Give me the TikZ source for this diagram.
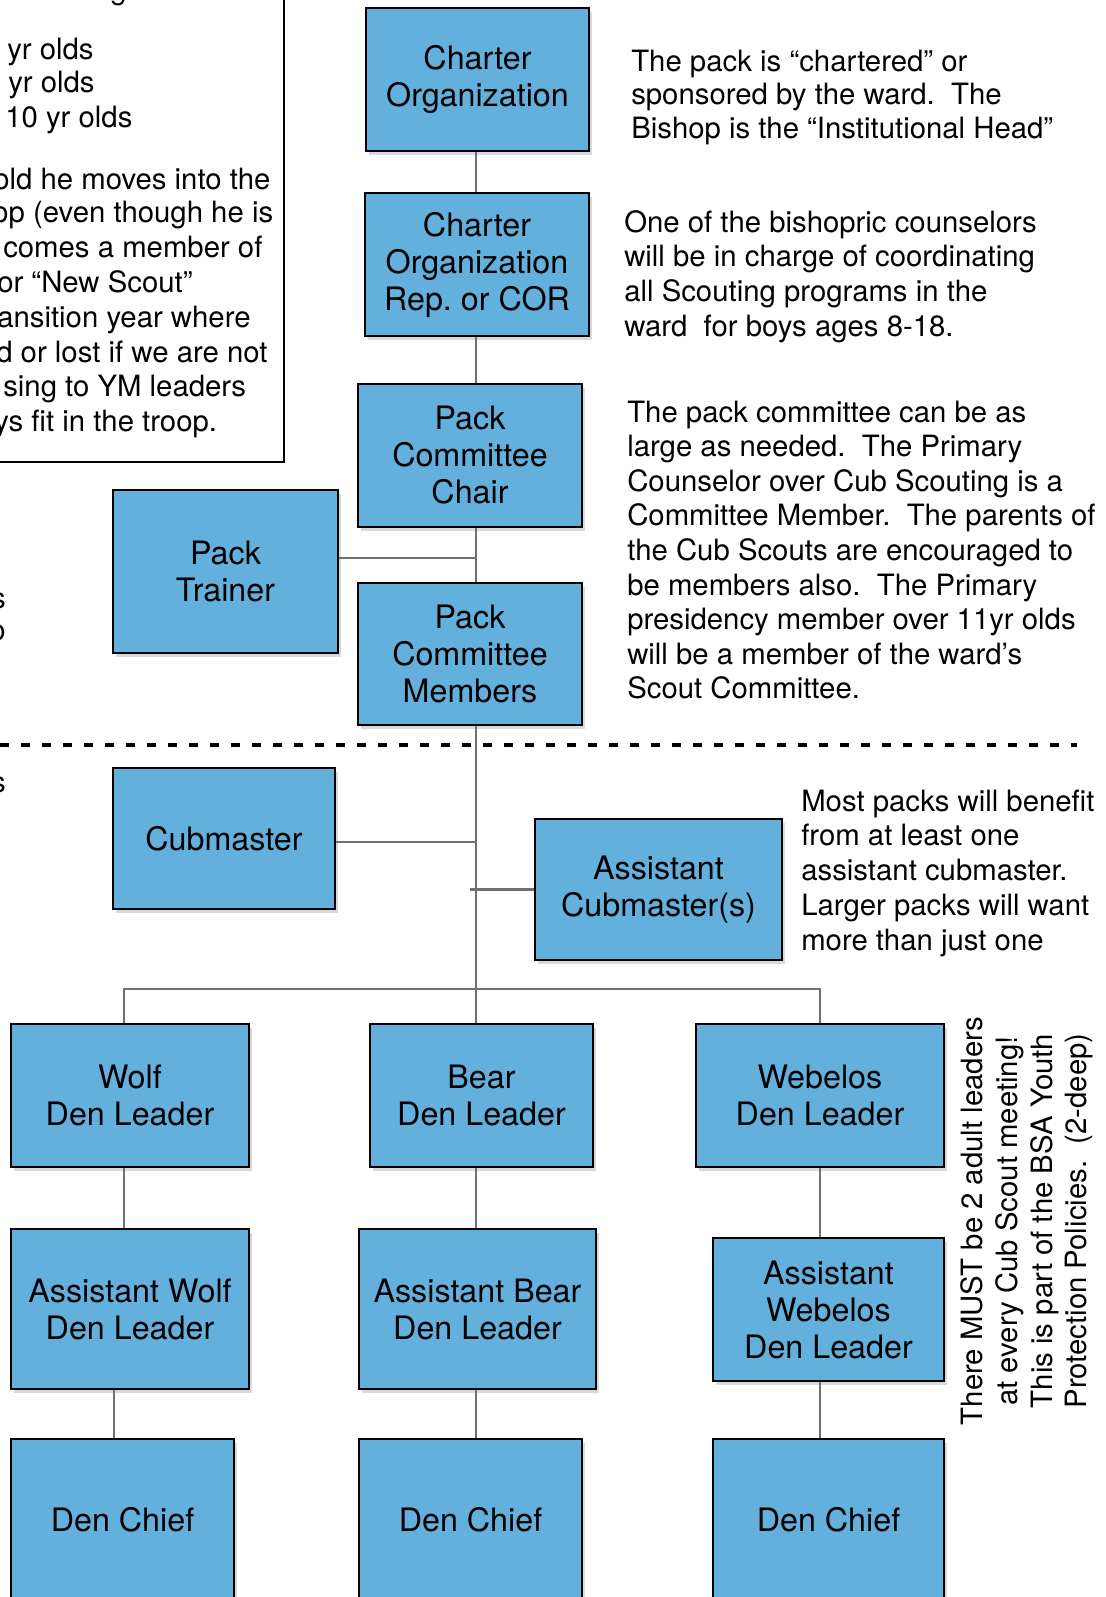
\documentclass[tikz,border=0pt]{standalone}
\usepackage{fontspec}
\setmainfont{TeX Gyre Heros}
\usetikzlibrary{shadows, calc}

\definecolor{boxblue}{RGB}{99,176,221}
\definecolor{linkgray}{RGB}{112,112,112}
\newcommand{\boxfont}{\fontsize{24.2}{27.75}\selectfont}
\newcommand{\notefont}{\fontsize{22}{25.95}\selectfont}
\frenchspacing

\tikzset{
  role/.style={draw=black, line width=1.6pt, fill=boxblue, align=center, font=\boxfont,
    inner sep=0pt, drop shadow={shadow xshift=2pt, shadow yshift=-3pt, opacity=0.3}},
  boxsize/.style 2 args={minimum width=#1*0.75pt, minimum height=#2*0.75pt},
  link/.style={draw=linkgray, line width=2.2pt},
  note/.style={font=\notefont, anchor=base west, inner sep=0pt},
  divider/.style={line width=3pt, dash pattern=on 7pt off 8.75pt},
}

\begin{document}
\begin{tikzpicture}[x=0.75pt, y=-0.75pt]
  \useasboundingbox (0,0) rectangle (1106,1597);

  % age groups box, cut off at the page edge
  \draw[line width=1.6pt] (-20,-20) rectangle (284,462);
  \node[note] (ageTitle) at (110,-1) {g};
  \foreach \xx/\yy/\txt [count=\i] in {7/59/{yr olds}, 8/92/{yr olds}, 5/127/{10 yr olds},
      -7/189/{old he moves into the}, -8/222/{op (even though he is},
      3/257/{comes a member of}, -3/292/{or “New Scout”},
      -3/327/{ansition year where}, -4/362/{d or lost if we are not},
      3/396/{sing to YM leaders}, -6/431/{ys fit in the troop.}}
    \node[note] (age\i) at (\xx,\yy) {\txt};
  \node[note, anchor=base east] (edgeS) at (6,608) {s};
  \node[note, anchor=base east] (edgeO) at (6,640) {o};
  \node[note, anchor=base east] (edgeT) at (6,792) {s};

  \draw[divider] (0,745) -- (1077,745);

  % boxes
  \node[role, boxsize={223}{143}] (charter) at (477.5,79.5) {Charter\\Organization};
  \node[role, boxsize={224}{143}] (cor) at (477,264.5) {Charter\\Organization\\Rep. or COR};
  \node[role, boxsize={224}{143}] (chair) at (470,455.5) {Pack\\Committee\\Chair};
  \node[role, boxsize={225}{163}] (trainer) at (225.5,571.5) {Pack\\Trainer};
  \node[role, boxsize={224}{142}] (members) at (470,654) {Pack\\Committee\\Members};
  \node[role, boxsize={222}{141}] (cubmaster) at (224,838.5) {Cubmaster};
  \node[role, boxsize={247}{141}] (asstcm) at (658.5,889.5) {Assistant\\Cubmaster(s)};
  \node[role, boxsize={238}{143}] (wolf) at (130,1095.5) {Wolf\\Den Leader};
  \node[role, boxsize={223}{143}] (bear) at (481.5,1095.5) {Bear\\Den Leader};
  \node[role, boxsize={248}{143}] (webelos) at (820,1095.5) {Webelos\\Den Leader};
  \node[role, boxsize={238}{160}] (asstwolf) at (130,1309) {Assistant Wolf\\Den Leader};
  \node[role, boxsize={237}{160}] (asstbear) at (477.5,1309) {Assistant Bear\\Den Leader};
  \node[role, boxsize={231}{143}] (asstwebelos) at (828.5,1309.5) {Assistant\\Webelos\\Den Leader};
  \node[role, boxsize={223}{161}] (chiefwolf) at (122.5,1519.5) {Den Chief};
  \node[role, boxsize={223}{161}] (chiefbear) at (470.5,1519.5) {Den Chief};
  \node[role, boxsize={231}{161}] (chiefwebelos) at (828.5,1519.5) {Den Chief};

  % connectors
  \coordinate (spine) at (476,0);
  \coordinate (fork) at (476,989);
  \coordinate (trainerjoin) at ($(trainer.east)+(0,-13.5)$);
  \coordinate (cubjoin) at ($(cubmaster.east)+(0,3.5)$);
  \coordinate (wolfchief) at ($(chiefwolf.north)+(-8.5,0)$);
  \draw[link] (charter.south -| spine) -- (cor.north -| spine);
  \draw[link] (cor.south -| spine) -- (chair.north -| spine);
  \draw[link] (chair.south -| spine) -- (members.north -| spine);
  \draw[link] (trainerjoin) -- (trainerjoin -| spine);
  \draw[link] (members.south -| spine) -- (bear.north -| spine);
  \draw[link] (cubjoin) -- (cubjoin -| spine);
  \draw[link] (asstcm.west) -- ($(asstcm.west -| spine)+(-6,0)$);
  \draw[link] ([xshift=-4.5pt]wolf.north) |- (fork) -| (webelos.north);
  \draw[link] ([xshift=-4.5pt]wolf.south) -- ([xshift=-4.5pt]asstwolf.north);
  \draw[link] (bear.south -| spine) -- (asstbear.north -| spine);
  \draw[link] (webelos.south) -- (webelos.south |- asstwebelos.north);
  \draw[link] (wolfchief |- asstwolf.south) -- (wolfchief);
  \draw[link] (asstbear.south -| spine) -- (chiefbear.north -| spine);
  \draw[link] (asstwebelos.south -| webelos.south) -- (chiefwebelos.north -| webelos.south);

  % notes on the right
  \foreach \txt [count=\i from 0] in {The pack is “chartered” or,
      sponsored by the ward.~ The, Bishop is the “Institutional Head”}
    \node[note] (charterNote\i) at (631,{71+33.5*\i}) {\txt};
  \foreach \txt [count=\i from 0] in {One of the bishopric counselors,
      will be in charge of coordinating, all Scouting programs in the,
      ward~ for boys ages 8-18.}
    \node[note] (corNote\i) at (624,{232+34.7*\i}) {\txt};
  \foreach \txt [count=\i from 0] in {The pack committee can be as,
      large as needed.~ The Primary, Counselor over Cub Scouting is a,
      Committee Member.~ The parents of, the Cub Scouts are encouraged to,
      be members also.~ The Primary, presidency member over 11yr olds,
      will be a member of the ward’s, Scout Committee.}
    \node[note] (committeeNote\i) at (627,{422+34.6*\i}) {\txt};
  \foreach \txt [count=\i from 0] in {Most packs will benefit, from at least one,
      assistant cubmaster., Larger packs will want, more than just one}
    \node[note] (asstNote\i) at (801,{811+34.75*\i}) {\txt};
  \node[rotate=90, align=center, inner sep=0pt, font=\fontsize{22}{25.9}\selectfont]
    (twoDeep) at (1027,1221) {There MUST be 2 adult leaders\\at every Cub Scout meeting!\\
    This is part of the BSA Youth\\Protection Policies.~ (2-deep)};
\end{tikzpicture}
\end{document}
